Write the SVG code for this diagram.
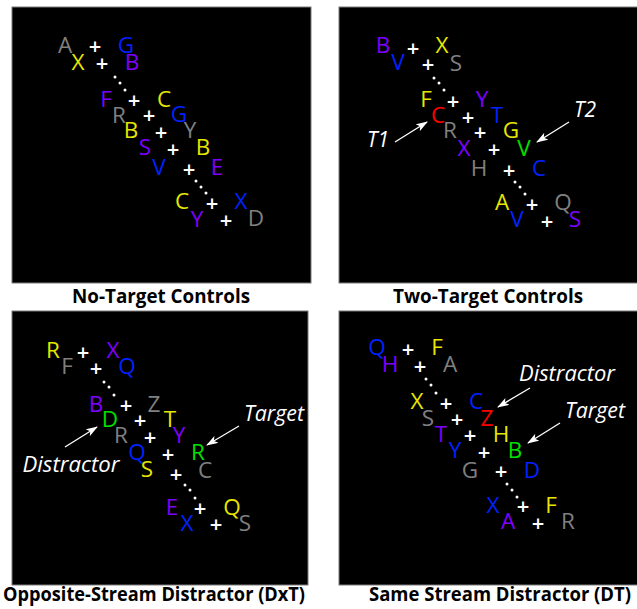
<svg xmlns="http://www.w3.org/2000/svg" width="637" height="609" viewBox="0 0 637 609">
<style>
.panel{fill:#000;stroke:#7a7a7a;stroke-width:1}
text{font-family:"Open Sans","Noto Sans","Liberation Sans",sans-serif}
.L{font-size:22.5px;text-anchor:middle}
.P{font-size:22px;font-weight:600;text-anchor:middle;fill:#fff}
.y{fill:#e6e600}.p{fill:#7f00ff}.b{fill:#0022ff}.g{fill:#808080}.r{fill:#ff0000}.gn{fill:#00e000}
.lab{font-size:21px;font-style:italic;fill:#fff;text-anchor:middle}
.title{font-size:20px;font-weight:bold;fill:#000;text-anchor:middle}
.dot{fill:#fff}
.arr{stroke:#fff;stroke-width:1.3;fill:none;marker-end:url(#ah)}
</style>
<defs>
<marker id="ah" markerUnits="userSpaceOnUse" markerWidth="12" markerHeight="8" refX="11" refY="4" orient="auto">
<path d="M0,0 L12,4 L0,8 L3,4 z" fill="#fff"/>
</marker>
</defs>
<rect width="637" height="609" fill="#fff"/>

<g id="panel-no-target">
<rect class="panel" x="12" y="7" width="299" height="276"/>
<text class="L g" x="65" y="53">A</text><text class="L b" x="126" y="53">G</text>
<text class="L y" x="78" y="70">X</text><text class="L p" x="132" y="70">B</text>
<text class="L p" x="106" y="107">F</text><text class="L y" x="164" y="107">C</text>
<text class="L g" x="119" y="123">R</text><text class="L b" x="179" y="122">G</text>
<text class="L y" x="131" y="138">B</text><text class="L g" x="190" y="138">Y</text>
<text class="L p" x="145" y="155">S</text><text class="L y" x="203" y="155">B</text>
<text class="L b" x="159" y="175">V</text><text class="L p" x="217" y="175">E</text>
<text class="L y" x="182" y="209">C</text><text class="L b" x="241" y="209">X</text>
<text class="L p" x="197" y="227">Y</text><text class="L g" x="256" y="226">D</text>
<text class="P" x="95" y="54">+</text><text class="P" x="102" y="71">+</text>
<text class="P" x="134" y="108">+</text><text class="P" x="149" y="123">+</text>
<text class="P" x="161" y="140">+</text><text class="P" x="173" y="157">+</text>
<text class="P" x="189" y="177">+</text><text class="P" x="212" y="211">+</text>
<text class="P" x="226" y="228">+</text>
<circle class="dot" cx="115" cy="77" r="1.5"/><circle class="dot" cx="120" cy="83" r="1.5"/><circle class="dot" cx="125" cy="90" r="1.5"/>
<circle class="dot" cx="196" cy="181" r="1.5"/><circle class="dot" cx="201" cy="187" r="1.5"/><circle class="dot" cx="206" cy="193" r="1.5"/>
</g>

<g id="panel-two-target">
<rect class="panel" x="339" y="7" width="299" height="276"/>
<text class="L p" x="383" y="53">B</text><text class="L y" x="442" y="53">X</text>
<text class="L b" x="398" y="70">V</text><text class="L g" x="456" y="71">S</text>
<text class="L y" x="426" y="107">F</text><text class="L p" x="482" y="107">Y</text>
<text class="L r" x="438" y="123">C</text><text class="L b" x="497" y="123">T</text>
<text class="L g" x="450" y="138">R</text><text class="L y" x="511" y="138">G</text>
<text class="L p" x="464" y="156">X</text><text class="L gn" x="524" y="156">V</text>
<text class="L g" x="479" y="176">H</text><text class="L b" x="539" y="176">C</text>
<text class="L y" x="502" y="210">A</text><text class="L g" x="563" y="210">Q</text>
<text class="L b" x="517" y="227">V</text><text class="L p" x="575" y="227">S</text>
<text class="P" x="413" y="56">+</text><text class="P" x="428" y="72">+</text>
<text class="P" x="453" y="109">+</text><text class="P" x="468" y="125">+</text>
<text class="P" x="480" y="140">+</text><text class="P" x="494" y="157">+</text>
<text class="P" x="509" y="178">+</text><text class="P" x="532" y="212">+</text>
<text class="P" x="547" y="229">+</text>
<circle class="dot" cx="434" cy="78" r="1.5"/><circle class="dot" cx="439" cy="83" r="1.5"/><circle class="dot" cx="444" cy="90" r="1.5"/>
<circle class="dot" cx="515" cy="182" r="1.5"/><circle class="dot" cx="520" cy="187" r="1.5"/><circle class="dot" cx="525" cy="194" r="1.5"/>
<text class="lab" x="378" y="147">T1</text>
<text class="lab" x="585" y="117">T2</text>
</g>

<g id="panel-opposite">
<rect class="panel" x="12" y="311" width="296" height="274"/>
<text class="L y" x="53" y="358">R</text><text class="L p" x="113" y="358">X</text>
<text class="L g" x="67" y="374">F</text><text class="L b" x="127" y="374">Q</text>
<text class="L p" x="96" y="412">B</text><text class="L g" x="154" y="412">Z</text>
<text class="L gn" x="110" y="427">D</text><text class="L y" x="170" y="427">T</text>
<text class="L g" x="121" y="443">R</text><text class="L p" x="179" y="443">Y</text>
<text class="L b" x="137" y="460">Q</text><text class="L gn" x="198" y="460">R</text>
<text class="L y" x="147" y="477">S</text><text class="L g" x="205" y="478">C</text>
<text class="L p" x="172" y="515">E</text><text class="L y" x="232" y="515">Q</text>
<text class="L b" x="187" y="531">X</text><text class="L g" x="245" y="531">S</text>
<text class="P" x="83" y="360">+</text><text class="P" x="96" y="376">+</text>
<text class="P" x="126" y="413">+</text><text class="P" x="140" y="428">+</text>
<text class="P" x="150" y="445">+</text><text class="P" x="168" y="462">+</text>
<text class="P" x="176" y="482">+</text><text class="P" x="200" y="516">+</text>
<text class="P" x="216" y="532">+</text>
<circle class="dot" cx="104" cy="382" r="1.5"/><circle class="dot" cx="109" cy="387" r="1.5"/><circle class="dot" cx="114" cy="395" r="1.5"/>
<circle class="dot" cx="185" cy="485" r="1.5"/><circle class="dot" cx="190" cy="490" r="1.5"/><circle class="dot" cx="195" cy="498" r="1.5"/>
<text class="lab" x="71" y="472" textLength="97" lengthAdjust="spacingAndGlyphs">Distractor</text>
<text class="lab" x="274" y="421" textLength="60" lengthAdjust="spacingAndGlyphs">Target</text>
</g>

<g id="panel-same">
<rect class="panel" x="339" y="311" width="299" height="274"/>
<text class="L b" x="377" y="355">Q</text><text class="L y" x="437" y="355">F</text>
<text class="L p" x="390" y="372">H</text><text class="L g" x="450" y="372">A</text>
<text class="L y" x="417" y="409">X</text><text class="L b" x="476" y="409">C</text>
<text class="L g" x="428" y="426">S</text><text class="L r" x="487" y="426">Z</text>
<text class="L p" x="441" y="442">T</text><text class="L y" x="501" y="442">H</text>
<text class="L b" x="455" y="458">Y</text><text class="L gn" x="515" y="458">B</text>
<text class="L g" x="470" y="478">G</text><text class="L b" x="532" y="478">D</text>
<text class="L b" x="493" y="513">X</text><text class="L y" x="551" y="513">F</text>
<text class="L p" x="508" y="529">A</text><text class="L g" x="568" y="529">R</text>
<text class="P" x="408" y="357">+</text><text class="P" x="420" y="374">+</text>
<text class="P" x="446" y="411">+</text><text class="P" x="457" y="427">+</text>
<text class="P" x="470" y="443">+</text><text class="P" x="484" y="460">+</text>
<text class="P" x="501" y="479">+</text><text class="P" x="523" y="514">+</text>
<text class="P" x="538" y="531">+</text>
<circle class="dot" cx="426" cy="379" r="1.5"/><circle class="dot" cx="431" cy="385" r="1.5"/><circle class="dot" cx="436" cy="393" r="1.5"/>
<circle class="dot" cx="507" cy="484" r="1.5"/><circle class="dot" cx="512" cy="490" r="1.5"/><circle class="dot" cx="517" cy="497" r="1.5"/>
<text class="lab" x="567" y="381" textLength="96" lengthAdjust="spacingAndGlyphs">Distractor</text>
<text class="lab" x="595" y="418" textLength="60" lengthAdjust="spacingAndGlyphs">Target</text>
</g>

<g id="connectors">
<line class="arr" x1="395" y1="142" x2="427" y2="122"/>
<line class="arr" x1="569" y1="122" x2="537" y2="142"/>
<line class="arr" x1="65" y1="447" x2="97" y2="427"/>
<line class="arr" x1="239" y1="426" x2="207" y2="445"/>
<line class="arr" x1="530" y1="388" x2="498" y2="407"/>
<line class="arr" x1="560" y1="423" x2="528" y2="443"/>
</g>

<g id="titles">
<text class="title" x="161" y="303" textLength="178" lengthAdjust="spacingAndGlyphs">No-Target Controls</text>
<text class="title" x="488" y="303" textLength="190" lengthAdjust="spacingAndGlyphs">Two-Target Controls</text>
<text class="title" x="154" y="601" textLength="302" lengthAdjust="spacingAndGlyphs">Opposite-Stream Distractor (DxT)</text>
<text class="title" x="500" y="601" textLength="262" lengthAdjust="spacingAndGlyphs">Same Stream Distractor (DT)</text>
</g>
</svg>
